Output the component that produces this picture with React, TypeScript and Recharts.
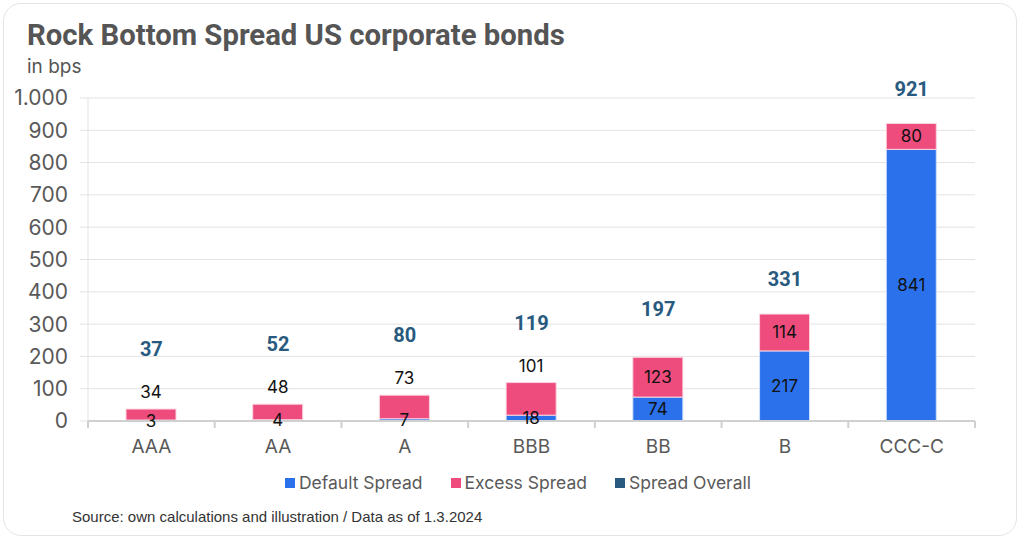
import React from 'react';
import {
  ComposedChart, Bar, Line, XAxis, YAxis, CartesianGrid, LabelList,
} from 'recharts';

const ratings = ['AAA', 'AA', 'A', 'BBB', 'BB', 'B', 'CCC-C'];
const defaultSpread = [3, 4, 7, 18, 74, 217, 841];
const excessSpread = [34, 48, 73, 101, 123, 114, 80];
const spreadOverall = [37, 52, 80, 119, 197, 331, 921];
const yTicks = [0, 100, 200, 300, 400, 500, 600, 700, 800, 900, 1000];

const BLUE = '#2b71ec';
const PINK = '#ee4c7c';
const NAVY = '#285a80';
const GREY = '#595959';

const data = ratings.map((name, i) => ({
  name,
  def: defaultSpread[i],
  excess: excessSpread[i],
  total: spreadOverall[i],
}));

const fmt = (v: number) => v.toLocaleString('de-DE');

// category tick: label in the middle, tick marks on the band edges
const CategoryTick = (props: any) => {
  const { x, y, payload, index, visibleTicksCount } = props;
  const half = payload?.offset ?? 63;
  const top = y - 19;
  const last = index === (visibleTicksCount ?? ratings.length) - 1;
  return (
    <g>
      <line x1={x - half} x2={x - half} y1={top} y2={top + 7} stroke="#d0d0d0" strokeWidth={2} />
      {last && <line x1={x + half} x2={x + half} y1={top} y2={top + 7} stroke="#d0d0d0" strokeWidth={2} />}
      <text x={x} y={y} dy="0.71em" textAnchor="middle" fontSize={19} fill={GREY} fontFamily="Inter">
        {payload.value}
      </text>
    </g>
  );
};

const DefaultLabel = (props: any) => {
  const { x, y, width, height, value } = props;
  return (
    <text x={x + width / 2} y={y + height / 2} textAnchor="middle" dominantBaseline="central"
      fontSize={17} fill="#111" fontFamily="Inter">
      {value}
    </text>
  );
};

const ExcessLabel = (props: any) => {
  const { x, y, width, height, value, index } = props;
  const above = spreadOverall[index] < 150;
  const cy = above ? y - 17 : y + height / 2;
  return (
    <text x={x + width / 2} y={cy} textAnchor="middle" dominantBaseline="central"
      fontSize={17} fill="#111" fontFamily="Inter">
      {value}
    </text>
  );
};

const TotalLabel = (props: any) => {
  const { x, y, value } = props;
  const lift = value < 150 ? 60 : value < 250 ? 48 : 35;
  return (
    <text x={x} y={y - lift} textAnchor="middle" dominantBaseline="central"
      fontSize={20} fontWeight="bold" fill={NAVY} fontFamily="Roboto">
      {value}
    </text>
  );
};

const legendItems = [
  { label: 'Default Spread', color: BLUE },
  { label: 'Excess Spread', color: PINK },
  { label: 'Spread Overall', color: NAVY },
];

export default function App() {
  return (
    <div style={{ position: 'absolute', left: 0, top: 0, width: 1024, height: 541, background: '#fff', overflow: 'hidden' }}>
      <div style={{
        position: 'absolute', left: 3, top: 3, width: 1014, height: 533,
        border: '1px solid #e4e4e4', borderRadius: 18, boxSizing: 'border-box',
      }} />
      <div style={{
        position: 'absolute', left: 27, top: 18, fontFamily: 'Roboto', fontWeight: 'bold',
        fontSize: 29.3, color: '#555', whiteSpace: 'nowrap',
      }}>
        Rock Bottom Spread US corporate bonds
      </div>
      <div style={{
        position: 'absolute', left: 27, top: 55, fontFamily: 'Inter', fontSize: 19, color: '#555',
      }}>
        in bps
      </div>
      <div style={{ position: 'absolute', left: 0, top: 0 }}>
        <ComposedChart width={1024} height={541} data={data}
          margin={{ top: 98, right: 49, bottom: 90, left: 0 }} barSize={50}>
          <CartesianGrid vertical={false} stroke="#e3e3e3" />
          <XAxis dataKey="name" height={30} tickLine={false} tickSize={8} tickMargin={11}
            axisLine={{ stroke: '#d0d0d0', strokeWidth: 2 }} tick={<CategoryTick />} />
          <YAxis width={88} domain={[0, 1000]} ticks={yTicks} tickFormatter={fmt}
            tickSize={8} tickMargin={12} axisLine={{ stroke: '#e3e3e3' }}
            tickLine={{ stroke: '#e3e3e3' }}
            tick={{ fontSize: 21, fill: GREY, fontFamily: 'Inter' }} />
          <Bar dataKey="def" stackId="s" fill={BLUE} stroke="#cfe0fb" strokeWidth={1}
            isAnimationActive={false}>
            <LabelList dataKey="def" content={DefaultLabel} />
          </Bar>
          <Bar dataKey="excess" stackId="s" fill={PINK} stroke="#fbd3df" strokeWidth={1}
            isAnimationActive={false}>
            <LabelList dataKey="excess" content={ExcessLabel} />
          </Bar>
          <Line dataKey="total" stroke="none" dot={false} activeDot={false}
            isAnimationActive={false}>
            <LabelList dataKey="total" content={TotalLabel} />
          </Line>
        </ComposedChart>
      </div>
      <div style={{
        position: 'absolute', left: 0, width: 1036, top: 472, display: 'flex',
        justifyContent: 'center', gap: 28, fontFamily: 'Inter', fontSize: 17.5, color: GREY,
      }}>
        {legendItems.map((it) => (
          <div key={it.label} style={{ display: 'flex', alignItems: 'center', gap: 4 }}>
            <span style={{ width: 10, height: 10, background: it.color, display: 'inline-block' }} />
            <span>{it.label}</span>
          </div>
        ))}
      </div>
      <div style={{
        position: 'absolute', left: 72, top: 508, fontFamily: 'Liberation Sans, Arial', fontSize: 15,
        color: '#333',
      }}>
        Source: own calculations and illustration / Data as of 1.3.2024
      </div>
    </div>
  );
}
